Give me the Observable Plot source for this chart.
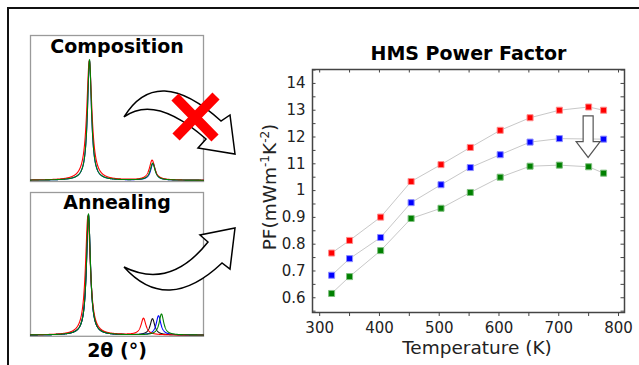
<!DOCTYPE html>
<html>
<head>
<meta charset="utf-8">
<script src="https://cdn.jsdelivr.net/npm/d3@7"></script>
<script src="https://cdn.jsdelivr.net/npm/@observablehq/plot@0.6"></script>
<style>
  html, body { margin: 0; padding: 0; background: #fff; }
  #fig { position: relative; width: 639px; height: 365px; overflow: hidden; background: #fff;
         font-family: "DejaVu Sans", sans-serif; }
  #fig > * { position: absolute; }
  #border { left: 7px; top: 7px; width: 700px; height: 400px;
            border-left: 2px solid #111; border-top: 2px solid #111; }
</style>
</head>
<body>
<div id="fig"><div id="border"></div></div>
<script>
// ---- Power factor (mW m^-1 K^-2) versus temperature (K), three HMS samples ----
const tempsRed   = [320, 350, 402, 453, 503, 552, 602, 652, 701, 750, 775];
const pfRed      = [0.767, 0.814, 0.901, 1.034, 1.097, 1.161, 1.225, 1.272, 1.300, 1.312, 1.300];
const tempsBlue  = [320, 350, 402, 453, 503, 552, 602, 652, 701, 775];
const pfBlue     = [0.684, 0.746, 0.825, 0.955, 1.022, 1.086, 1.134, 1.181, 1.194, 1.192];
const tempsGreen = [320, 350, 402, 453, 503, 552, 602, 652, 701, 750, 775];
const pfGreen    = [0.616, 0.679, 0.776, 0.896, 0.934, 0.993, 1.050, 1.091, 1.095, 1.089, 1.065];

const xTickValues = [300, 400, 500, 600, 700, 800];
const yTickValues = [0.6, 0.7, 0.8, 0.9, 1.0, 1.1, 1.2, 1.3, 1.4];
const yTickLabels = ["0.6", "0.7", "0.8", "0.9", "1", "11", "12", "13", "14"];

// ---- Diffraction peaks: position (2θ, arbitrary units), height, half width ----
const compNames   = ["blue", "red", "green"];
const compMainPos = [34.1, 34.0, 34.1];
const compMainHt  = [0.99, 0.99, 1.00];
const compMainHw  = [1.4, 1.8, 1.4];
const compSecPos  = [70.8, 70.3, 70.6];
const compSecHt   = [0.140, 0.165, 0.140];
const compSecHw   = [1.6, 1.9, 1.7];

const annNames   = ["black", "blue", "red", "green"];
const annMainPos = [33.5, 33.5, 33.2, 33.5];
const annMainHt  = [1.01, 1.01, 1.00, 1.02];
const annMainHw  = [1.4, 1.4, 1.7, 1.4];
const annSecPos  = [70.5, 74.0, 65.3, 75.7];
const annSecHt   = [0.137, 0.162, 0.140, 0.177];
const annSecHw   = [1.6, 1.6, 1.7, 1.6];

const lineColor = {black: "#111111", blue: "#0000ff", red: "#ff0000", green: "#008000"};

const fig = document.getElementById("fig");
const FONT = "DejaVu Sans, sans-serif";

// Lorentzian line profile summed over the two reflections of one pattern
function pattern(p1, h1, w1, p2, h2, w2) {
  const pts = [];
  for (let k = 0; k <= 1000; k++) {
    const x = k / 10;
    const y = h1 / (1 + ((x - p1) / w1) ** 2) + h2 / (1 + ((x - p2) / w2) ** 2);
    pts.push({x, y});
  }
  return pts;
}

function xrdPanel({names, mainPos, mainHt, mainHw, secPos, secHt, secHw, title, titleDy,
                   innerH, marginBottom, footer}) {
  const marks = [Plot.frame({stroke: "#9a9a9a", strokeWidth: 1.3})];
  names.forEach((n, i) => {
    marks.push(Plot.line(pattern(mainPos[i], mainHt[i], mainHw[i], secPos[i], secHt[i], secHw[i]),
      {x: "x", y: "y", stroke: lineColor[n], strokeWidth: 1.1}));
  });
  marks.push(Plot.text([title], {frameAnchor: "top", lineAnchor: "bottom", dy: titleDy,
    fontWeight: "bold", fontSize: 19}));
  if (footer) marks.push(Plot.text([footer], {frameAnchor: "bottom", lineAnchor: "bottom", dy: 21,
    fontWeight: "bold", fontSize: 19}));
  return Plot.plot({
    width: 175, height: innerH + 1 + marginBottom,
    margin: 1, marginBottom,
    x: {domain: [0, 100], axis: null},
    y: {domain: [-0.01, 1.2], axis: null},
    style: {background: "transparent", fontFamily: FONT, overflow: "visible"},
    marks
  });
}

const panelComp = xrdPanel({names: compNames, mainPos: compMainPos, mainHt: compMainHt, mainHw: compMainHw,
  secPos: compSecPos, secHt: compSecHt, secHw: compSecHw, title: "Composition", titleDy: 17.7,
  innerH: 146, marginBottom: 1});
panelComp.style.left = "29px"; panelComp.style.top = "34px";
fig.appendChild(panelComp);

const panelAnneal = xrdPanel({names: annNames, mainPos: annMainPos, mainHt: annMainHt, mainHw: annMainHw,
  secPos: annSecPos, secHt: annSecHt, secHw: annSecHw, title: "Annealing", titleDy: 16.6,
  innerH: 143.8, marginBottom: 29.5, footer: "2θ (°)"});
panelAnneal.style.left = "29px"; panelAnneal.style.top = "190.7px";
fig.appendChild(panelAnneal);

// ---- Power factor chart ----
const seriesStyle = [
  {name: "red",   temps: tempsRed,   pf: pfRed,   fill: "#ff0000", edge: "#ff8c8c"},
  {name: "blue",  temps: tempsBlue,  pf: pfBlue,  fill: "#0000ff", edge: "#8c8cff"},
  {name: "green", temps: tempsGreen, pf: pfGreen, fill: "#008000", edge: "#7fbf7f"}
];
const rows = seriesStyle.flatMap(s => s.temps.map((t, i) => ({series: s.name, T: t, PF: s.pf[i]})));

const W = 399, H = 335, mL = 72, mR = 15, mT = 39, mB = 53;
const xDom = [288, 810], yDom = [0.545, 1.452];
const pxX = (xDom[1] - xDom[0]) / (W - mL - mR);
const pxY = (yDom[1] - yDom[0]) / (H - mT - mB);
const minorX = d3.range(300, 801, 50);
const minorY = d3.range(11, 30).map(k => k * 0.05);
const tickColor = "#444";

const pfPlot = Plot.plot({
  width: W, height: H, marginLeft: mL, marginRight: mR, marginTop: mT, marginBottom: mB,
  x: {domain: xDom, axis: null},
  y: {domain: yDom, axis: null},
  style: {background: "transparent", fontFamily: FONT, overflow: "visible"},
  marks: [
    Plot.line(rows, {x: "T", y: "PF", z: "series", stroke: "#c8c8c8", strokeWidth: 1}),
    ...seriesStyle.map(s => Plot.dot(rows.filter(r => r.series === s.name),
      {x: "T", y: "PF", symbol: "square", r: 3.4, fill: s.fill, stroke: s.edge, strokeWidth: 1})),
    // inward ticks on left, right and top; outward on the bottom
    Plot.ruleY(minorY, {y: d => d, x1: xDom[0], x2: xDom[0] + 3.5 * pxX, stroke: tickColor}),
    Plot.ruleY(minorY, {y: d => d, x1: xDom[1] - 3.5 * pxX, x2: xDom[1], stroke: tickColor}),
    Plot.ruleX(minorX, {x: d => d, y1: yDom[1], y2: yDom[1] - 3.5 * pxY, stroke: tickColor}),
    Plot.ruleX(minorX, {x: d => d, y1: yDom[0], y2: yDom[0] - 4 * pxY, stroke: tickColor}),
    Plot.frame({stroke: tickColor, strokeWidth: 1.5}),
    Plot.text(yTickValues, {x: xDom[0], y: d => d, text: (d, i) => yTickLabels[i],
      textAnchor: "end", dx: -7, fontSize: 15, fill: "#222"}),
    Plot.text(xTickValues, {x: d => d, y: yDom[0], text: d => String(d),
      lineAnchor: "top", dy: 10, fontSize: 15, fill: "#222"}),
    Plot.text(["Temperature (K)"], {frameAnchor: "bottom", lineAnchor: "bottom", dx: 8.5, dy: 41.8,
      fontSize: 18.5, fill: "#222"}),
    Plot.text(["HMS Power Factor"], {frameAnchor: "top", lineAnchor: "bottom", dy: -9.3,
      fontWeight: "bold", fontSize: 19})
  ]
});
pfPlot.style.left = "240px"; pfPlot.style.top = "30px";
fig.appendChild(pfPlot);

// y label with superscripted exponents
{
  const svg = d3.select(pfPlot);
  const t = svg.append("text")
    .attr("transform", "translate(36,157) rotate(-90)")
    .attr("text-anchor", "middle")
    .attr("font-size", 18.5)
    .attr("fill", "#222")
    .attr("font-family", FONT);
  t.append("tspan").text("PF(mWm");
  t.append("tspan").attr("dy", -7).attr("font-size", 12).text("-1");
  t.append("tspan").attr("dy", 7).text("K");
  t.append("tspan").attr("dy", -7).attr("font-size", 12).text("-2");
  t.append("tspan").attr("dy", 7).text(")");

  // hollow arrow marking the drop of the power factor at 750 K
  const sx = pfPlot.scale("x"), sy = pfPlot.scale("y");
  const cx = sx.apply(750), y0 = sy.apply(1.277), y1 = sy.apply(1.181), y2 = sy.apply(1.122);
  const hw = 5, hh = 12;
  svg.append("path")
    .attr("d", `M${cx - hw},${y0}H${cx + hw}V${y1}H${cx + hh}L${cx},${y2}L${cx - hh},${y1}H${cx - hw}Z`)
    .attr("fill", "#fff").attr("stroke", "#555").attr("stroke-width", 1.2);
}

// ---- Curved block arrows and the cross between the panels ----
const overlay = d3.create("svg").attr("width", 639).attr("height", 365)
  .style("left", "0px").style("top", "0px").style("pointer-events", "none");
overlay.append("path")
  .attr("d", "M124,117 Q157,63 221,121 L230,115 L235,154 L198,148 L206,139 Q155,94 124,117 Z")
  .attr("fill", "#fff").attr("stroke", "#000").attr("stroke-width", 1.5).attr("stroke-linejoin", "miter");
overlay.append("path")
  .attr("d", "M124,267 Q170,290 208,242 L200,235 L235,228 L230,269 L222,263 Q167,315 124,267 Z")
  .attr("fill", "#fff").attr("stroke", "#000").attr("stroke-width", 1.5).attr("stroke-linejoin", "miter");
overlay.append("path").attr("d", "M175,97 L215,138 M216,96 L176,137")
  .attr("stroke", "#ff0000").attr("stroke-width", 10).attr("fill", "none");
fig.appendChild(overlay.node());
</script>
</body>
</html>
